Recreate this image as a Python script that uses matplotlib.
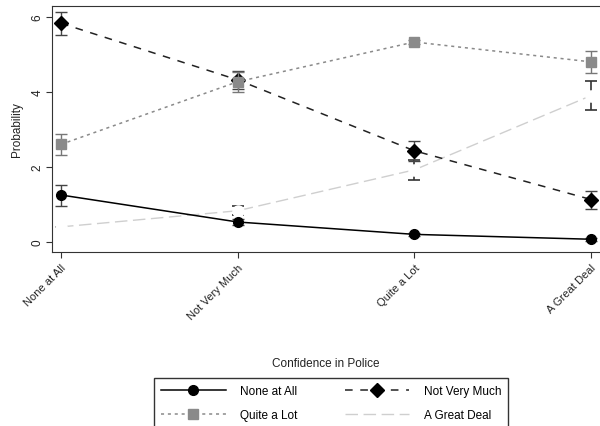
import matplotlib
matplotlib.use("Agg")
import matplotlib.pyplot as plt
from matplotlib.lines import Line2D

plt.rcParams['font.family'] = ['Liberation Sans', 'DejaVu Sans']

# data
categories = ["None at All", "Not Very Much", "Quite a Lot", "A Great Deal"]

none_at_all = [1.25, 0.53, 0.20, 0.07]
none_at_all_err = [0.28, 0.07, 0.05, 0.04]

not_very_much = [5.83, 4.32, 2.43, 1.13]
not_very_much_err = [0.30, 0.25, 0.27, 0.24]

quite_a_lot = [2.60, 4.27, 5.33, 4.80]
quite_a_lot_err = [0.28, 0.27, 0.06, 0.30]

great_deal = [0.40, 0.83, 1.92, 3.90]
great_deal_err = [0.0, 0.12, 0.26, 0.38]

x = list(range(len(categories)))

fig = plt.figure(figsize=(6, 4.27), dpi=100)
ax = fig.add_axes([52 / 600, 1 - 253 / 427, 548 / 600, 246 / 427])

# styles per series
st_none = dict(color="black", linestyle="-", linewidth=1.1, marker="o", markersize=7,
               markerfacecolor="black", markeredgecolor="black")
st_nvm = dict(color="#222222", linestyle=(0, (5, 5)), linewidth=1.1, marker="D", markersize=7,
              markerfacecolor="black", markeredgecolor="black")
st_qal = dict(color="#8a8a8a", linestyle=(0, (2, 2.5)), linewidth=1.1, marker="s", markersize=7,
              markerfacecolor="#8a8a8a", markeredgecolor="#8a8a8a")
st_gd = dict(color="#cfcfcf", linestyle=(0, (9, 4)), linewidth=1.0)

# A Great Deal: light long dashes, white marker hides the middle of the bar
ax.errorbar(x, great_deal, yerr=great_deal_err, ecolor="#333333", elinewidth=1.2,
            capsize=4, capthick=1.2, marker="o", markersize=8, markerfacecolor="white",
            markeredgecolor="white", zorder=2, **st_gd)
ax.errorbar(x, none_at_all, yerr=none_at_all_err, ecolor="#444444", elinewidth=1.0,
            capsize=4, zorder=3, **st_none)
ax.errorbar(x, not_very_much, yerr=not_very_much_err, ecolor="#444444", elinewidth=1.0,
            capsize=4, zorder=3, **st_nvm)
ax.errorbar(x, quite_a_lot, yerr=quite_a_lot_err, ecolor="#777777", elinewidth=1.0,
            capsize=4, zorder=4, **st_qal)

ax.set_xlim(-0.051, 3.051)
ax.set_ylim(-0.27, 6.29)
ax.set_xticks(x)
ax.set_xticklabels(categories, rotation=45, ha="right", rotation_mode="anchor",
                   fontsize=8, color="#222222")
ax.set_yticks([0, 2, 4, 6])
ax.set_yticklabels(["0", "2", "4", "6"], rotation=90, va="center", fontsize=8.5, color="#222222")
ax.tick_params(direction="out", length=4, width=0.8, color="#333333")
ax.tick_params(axis="x", pad=3)
ax.tick_params(axis="y", pad=2)
ax.spines["right"].set_visible(False)
for s in ["left", "bottom", "top"]:
    ax.spines[s].set_color("#333333")

ax.set_ylabel("Probability", fontsize=8.5, color="#222222", labelpad=6)
ax.set_xlabel("Confidence in Police", fontsize=8.5, color="#222222", labelpad=26)

# legend proxies (no error bars), filled column-wise
handles = [Line2D([], [], **st_none), Line2D([], [], **st_qal),
           Line2D([], [], **st_nvm), Line2D([], [], **st_gd)]
labels = ["None at All", "Quite a Lot", "Not Very Much", "A Great Deal"]
leg = fig.legend(handles, labels, loc="upper center",
                 bbox_to_anchor=(331 / 600, 1 - 373 / 427), ncol=2, fontsize=8.5,
                 frameon=True, fancybox=False, edgecolor="black", handlelength=5.5,
                 handletextpad=1.2, columnspacing=4, borderpad=0.6, labelspacing=1.0)
leg.get_frame().set_linewidth(1.0)

fig.savefig("out.png", dpi=100)
